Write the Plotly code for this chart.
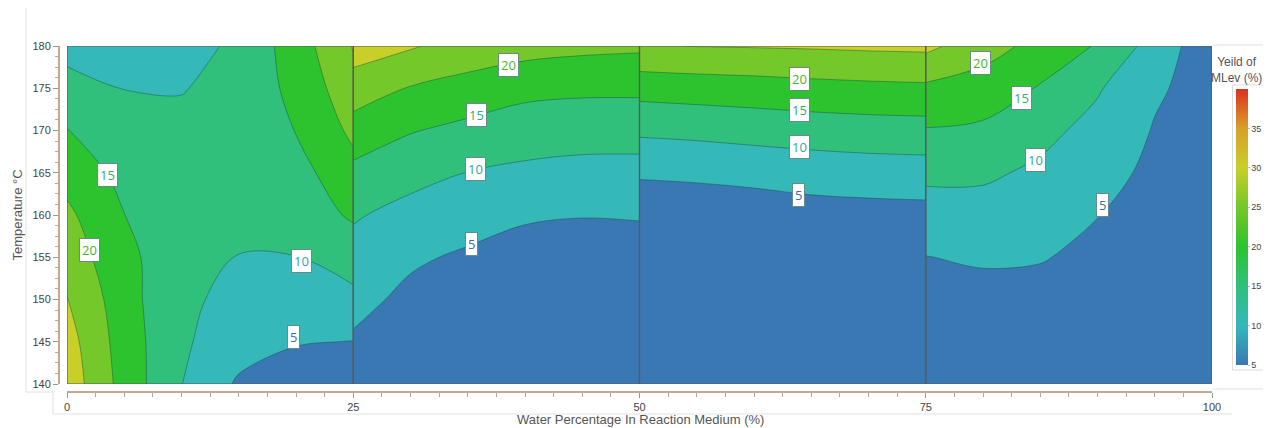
import plotly.graph_objects as go

# ---------------- data ----------------
temperature = [140, 145, 150, 155, 160, 165, 170, 175, 180]

water_p1 = [0, 5, 10, 15, 20, 25]
yield_p1 = [
    [28.0, 18.1, 10.1, 4.3, 2.5, 1.5],
    [27.0, 17.6, 10.7, 7.2, 5.3, 4.9],
    [25.2, 17.1, 10.5, 9.3, 8.0, 8.7],
    [22.9, 16.3, 11.8, 9.9, 9.9, 12.4],
    [21.0, 15.05, 12.2, 10.8, 12.5, 15.6],
    [18.2, 13.5, 12.2, 12.5, 13.2, 18.4],
    [15.2, 12.0, 11.6, 13.0, 15.1, 21.0],
    [11.8, 9.9, 9.7, 12.0, 16.2, 23.3],
    [8.3, 8.0, 8.0, 11.0, 17.4, 25.3],
]

water_p2 = [25, 30, 35, 40, 45, 50]
yield_p2 = [
    [2.5, 1.0, 0.5, 0.4, 0.4, 0.4],
    [4.4, 2.5, 1.5, 1.0, 1.0, 1.0],
    [6.4, 3.9, 3.0, 2.5, 2.3, 2.4],
    [8.3, 5.7, 4.3, 4.0, 3.7, 3.8],
    [10.5, 8.4, 7.0, 5.3, 5.1, 5.2],
    [13.8, 11.6, 9.9, 9.0, 8.5, 8.5],
    [17.9, 15.3, 13.7, 12.5, 12.0, 11.9],
    [22.6, 19.7, 18.2, 16.3, 15.9, 15.9],
    [27.5, 25.5, 23.0, 22.0, 21.2, 20.8],
]

water_p3 = [50, 55, 60, 65, 70, 75]
yield_p3 = [
    [0.1, 0.1, 0.1, 0.1, 0.1, 0.1],
    [0.1, 0.1, 0.2, 0.2, 0.2, 0.2],
    [0.2, 0.2, 0.3, 0.4, 0.5, 0.5],
    [0.3, 0.5, 0.8, 1.2, 1.5, 1.6],
    [0.8, 1.2, 2.0, 2.9, 3.2, 3.4],
    [5.8, 6.2, 6.7, 7.3, 7.7, 7.9],
    [10.8, 11.2, 11.8, 12.3, 12.7, 12.9],
    [16.9, 17.4, 17.8, 18.4, 18.8, 19.1],
    [24.7, 25.1, 25.3, 25.5, 25.8, 26.0],
]

water_p4 = [75, 80, 85, 90, 95, 100]
yield_p4 = [
    [1.0, 0.5, 0.5, 0.5, 0.3, 0.1],
    [2.0, 1.8, 1.8, 1.5, 1.0, 0.5],
    [3.0, 3.3, 3.3, 2.6, 1.8, 1.0],
    [4.9, 5.6, 5.3, 3.8, 2.6, 1.5],
    [7.9, 8.1, 7.1, 5.1, 3.4, 2.0],
    [11.0, 10.8, 9.1, 6.6, 4.0, 2.5],
    [14.7, 14.1, 11.4, 8.4, 4.7, 3.0],
    [19.0, 17.8, 14.6, 10.5, 5.6, 3.2],
    [26.3, 22.0, 18.5, 14.6, 8.0, 1.6],
]

# contour labels (level text, water %, temperature)
label_text = ["15", "20", "10", "5",
              "20", "15", "10", "5",
              "20", "15", "10", "5",
              "20", "15", "10", "5"]
label_x = [3.5, 2.0, 20.5, 19.8,
           38.6, 35.8, 35.7, 35.3,
           64.0, 64.0, 64.0, 63.9,
           79.8, 83.4, 84.6, 90.4]
label_y = [164.7, 155.9, 154.6, 145.6,
           177.8, 171.8, 165.4, 156.6,
           176.1, 172.4, 168.0, 162.4,
           178.0, 173.8, 166.5, 161.2]

x_ticks = [0, 25, 50, 75, 100]
y_ticks = [140, 145, 150, 155, 160, 165, 170, 175, 180]
cbar_ticks = [5, 10, 15, 20, 25, 30, 35]

# ---------------- styling ----------------
OFF = 8                      # default page body margin of the browser
W, H = 1271 - OFF, 428 - OFF
# layout measured in screenshot pixels, converted to figure pixels
PLOT_L, PLOT_R, PLOT_T, PLOT_B = 67, 1212, 46, 384
AXIS_X_PX, AXIS_Y_PX = 59, 392
ML = AXIS_X_PX - OFF
MR = W - (PLOT_R - OFF)
MT = PLOT_T - OFF
MB = H - (AXIS_Y_PX - OFF)
PW = W - ML - MR
PH = H - MT - MB


def px_to_paper_x(px):
    return (px - OFF - ML) / PW


def px_to_paper_y(py):
    return (H - MB - (py - OFF)) / PH


band_colors = ["#3a78b4", "#34b8b8", "#31bf7c", "#2dc32f",
               "#74c82a", "#c8cf28", "#d6952a", "#d83a22"]
n_b = len(band_colors) - 1
fill_scale = [[i / n_b, c] for i, c in enumerate(band_colors)]

cont_scale = [[0.0, "#3a78b4"], [5 / 35, "#34b8b8"], [10 / 35, "#31bf7c"],
              [15 / 35, "#2dc32f"], [20 / 35, "#74c82a"], [25 / 35, "#c8cf28"],
              [30 / 35, "#d8a02a"], [1.0, "#d8321e"]]

level_text_color = {"5": "#3a6fa8", "10": "#2aa8a8", "15": "#2bb070",
                    "20": "#4ab42a"}

fig = go.Figure()

for xs, zs in [(water_p1, yield_p1), (water_p2, yield_p2),
               (water_p3, yield_p3), (water_p4, yield_p4)]:
    fig.add_trace(go.Contour(
        x=xs, y=temperature, z=zs,
        autocontour=False,
        contours=dict(start=5, end=35, size=5, coloring="fill"),
        colorscale=fill_scale,
        showscale=False,
        line=dict(color="rgba(30,70,70,0.55)", width=0.8, smoothing=1.0),
        hoverinfo="skip",
    ))

# continuous colour bar
fig.add_trace(go.Scatter(
    x=[50], y=[100], mode="markers", showlegend=False, hoverinfo="skip",
    marker=dict(size=1, color=[5], colorscale=cont_scale, cmin=5, cmax=40,
                showscale=True,
                colorbar=dict(
                    x=px_to_paper_x(1233), xanchor="left", xpad=3,
                    y=px_to_paper_y(85), yanchor="top", ypad=4,
                    lenmode="pixels", len=284,
                    thicknessmode="pixels", thickness=12,
                    tickvals=cbar_ticks, ticks="outside", ticklen=2,
                    tickcolor="#bbbbbb",
                    tickfont=dict(size=9, color="#444", family="Liberation Sans, Arial"),
                    outlinewidth=0, borderwidth=1, bordercolor="#dddddd",
                ))))

# panel frames
for x0, x1 in [(0, 25), (25, 50), (50, 75), (75, 100)]:
    fig.add_shape(type="rect", xref="x", yref="y", x0=x0, x1=x1, y0=140, y1=180,
                  line=dict(color="#5a5a5a", width=1.2), layer="above")

# contour labels
for t, lx, ly in zip(label_text, label_x, label_y):
    fig.add_annotation(x=lx, y=ly, xref="x", yref="y", text=t, showarrow=False,
                       bgcolor="white", bordercolor="#6a8a8a", borderwidth=1,
                       borderpad=2,
                       font=dict(size=13, color=level_text_color[t],
                                 family="Open Sans, Liberation Sans, Arial"))

# colour bar title
fig.add_annotation(xref="paper", yref="paper", x=px_to_paper_x(1236),
                   y=px_to_paper_y(53), yanchor="top", xanchor="center",
                   showarrow=False, align="center",
                   text="Yeild of<br>MLev (%)",
                   font=dict(size=12, color="#555", family="Liberation Sans, Arial"))

# x-axis title
fig.add_annotation(xref="paper", yref="paper", x=px_to_paper_x(640),
                   y=px_to_paper_y(419), yanchor="middle", xanchor="center",
                   showarrow=False,
                   text="Water Percentage In Reaction Medium (%)",
                   font=dict(size=13, color="#555", family="Liberation Sans, Arial"))

# faint frame lines around the chart
frame_lines = [(26, 8, 26, 392), (26, 392, 53, 392), (53, 392, 53, 414),
               (53, 414, 1232, 414), (1213, 45, 1263, 45), (1213, 389, 1263, 389)]
for x0, y0, x1, y1 in frame_lines:
    fig.add_shape(type="line", xref="paper", yref="paper",
                  x0=px_to_paper_x(x0), y0=px_to_paper_y(y0),
                  x1=px_to_paper_x(x1), y1=px_to_paper_y(y1),
                  line=dict(color="#e2e2e2", width=1))

fig.update_layout(
    width=W, height=H,
    margin=dict(l=ML, r=MR, t=MT, b=MB, pad=0, autoexpand=False),
    paper_bgcolor="white", plot_bgcolor="white",
    showlegend=False,
    font=dict(family="Liberation Sans, Arial", color="#444"),
    xaxis=dict(
        range=[0, 100], domain=[px_to_paper_x(PLOT_L), 1],
        anchor="free", position=0,
        tickvals=x_ticks, ticks="outside", ticklen=5, tickcolor="#999",
        minor=dict(dtick=2.5, ticks="outside", ticklen=4, tickcolor="#aaa"),
        showline=True, linecolor="#c9a88e", linewidth=2,
        showgrid=False, zeroline=False,
        tickfont=dict(size=11, color="#444"),
        automargin=False,
    ),
    yaxis=dict(
        range=[140, 180],
        domain=[px_to_paper_y(PLOT_B), 1],
        anchor="free", position=0,
        tickvals=y_ticks, ticks="outside", ticklen=5, tickcolor="#999",
        minor=dict(dtick=1.25, ticks="outside", ticklen=3, tickcolor="#aaa"),
        showline=True, linecolor="#c9a88e", linewidth=2,
        showgrid=False, zeroline=False,
        tickfont=dict(size=11, color="#444"),
        title=dict(text="Temperature °C", font=dict(size=13, color="#555"),
                   standoff=6),
        automargin=False,
    ),
)

fig.write_html("out.html")
